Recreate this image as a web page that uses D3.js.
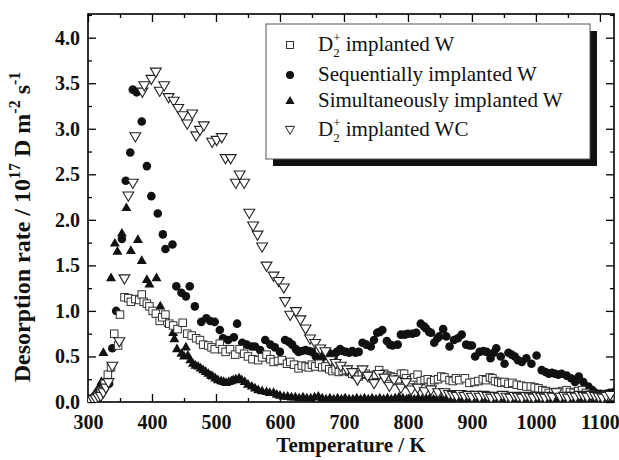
<!DOCTYPE html>
<html><head><meta charset="utf-8">
<script src="https://cdn.jsdelivr.net/npm/d3@7"></script>
<style>body{margin:0;background:#fff}svg{display:block}</style></head>
<body><svg id="c" width="619" height="460"></svg>
<script>
// D2+ implanted W (open squares)
const sqData = [[305,0.02],[310,0.04],[315,0.07],[320,0.12],[326,0.2],[331,0.3],[336,0.38],[341,0.75],[347,0.62],[350,0.96],[357,1.15],[363,1.14],[367,1.10],[374,1.13],[380,1.12],[384,1.18],[387,1.10],[392,1.08],[396,1.05],[401,1.0],[406,0.97],[412,0.89],[416,0.93],[421,0.96],[427,0.86],[433,0.84],[440,0.80],[448,0.87],[455,0.75],[462,0.73],[469,0.70],[475,0.68],[480,0.63],[488,0.62],[493,0.6],[498,0.58],[506,0.64],[510,0.58],[515,0.55],[522,0.58],[530,0.52],[537,0.58],[544,0.53],[550,0.5],[557,0.47],[566,0.46],[572,0.49],[579,0.52],[585,0.47],[590,0.44],[597,0.45],[603,0.46],[611,0.42],[616,0.44],[622,0.41],[629,0.37],[634,0.4],[640,0.39],[645,0.38],[650,0.41],[655,0.39],[661,0.42],[666,0.38],[671,0.39],[677,0.36],[682,0.34],[687,0.36],[692,0.33],[698,0.34],[703,0.35],[708,0.33],[713,0.31],[718,0.3],[723,0.28],[728,0.3],[734,0.31],[740,0.29],[745,0.26],[750,0.3],[755,0.35],[760,0.3],[763,0.31],[768,0.29],[773,0.28],[779,0.27],[784,0.25],[789,0.31],[794,0.31],[797,0.26],[805,0.24],[810,0.27],[815,0.3],[820,0.23],[826,0.24],[831,0.25],[836,0.22],[841,0.24],[847,0.25],[852,0.28],[857,0.27],[865,0.24],[870,0.23],[875,0.26],[880,0.24],[889,0.26],[896,0.21],[904,0.22],[910,0.23],[917,0.25],[922,0.24],[928,0.27],[932,0.26],[936,0.23],[941,0.22],[946,0.21],[951,0.22],[957,0.2],[963,0.21],[970,0.19],[977,0.18],[985,0.17],[992,0.17],[998,0.16],[1004,0.15],[1010,0.13],[1015,0.12],[1020,0.10],[1027,0.11],[1035,0.10],[1041,0.12],[1048,0.13],[1053,0.11],[1059,0.10],[1066,0.12],[1072,0.13],[1078,0.1],[1085,0.08],[1092,0.07],[1100,0.06],[1108,0.07],[1116,0.06]];
// Sequentially implanted W (filled circles)
const ciData = [[304,0.02],[308,0.04],[312,0.07],[316,0.1],[320,0.14],[324,0.18],[328,0.22],[333,0.2],[338,0.59],[344,1.0],[353,1.79],[359,2.43],[366,2.74],[370,3.43],[376,3.40],[384,3.08],[392,2.59],[399,2.26],[409,2.07],[417,1.84],[421,1.68],[432,1.73],[438,1.27],[446,1.20],[453,1.16],[459,1.27],[467,1.05],[477,0.88],[485,0.92],[491,0.89],[498,0.88],[506,0.79],[511,0.70],[519,0.68],[528,0.71],[533,0.86],[541,0.65],[548,0.63],[556,0.61],[561,0.61],[569,0.57],[577,0.68],[585,0.63],[592,0.60],[600,0.55],[608,0.68],[614,0.66],[619,0.63],[625,0.58],[629,0.55],[634,0.56],[640,0.57],[645,0.56],[650,0.55],[656,0.5],[663,0.45],[668,0.5],[674,0.55],[679,0.53],[684,0.50],[689,0.55],[694,0.58],[698,0.56],[703,0.55],[708,0.54],[713,0.56],[718,0.54],[723,0.55],[729,0.65],[735,0.63],[742,0.61],[747,0.68],[752,0.76],[756,0.77],[760,0.79],[767,0.67],[772,0.63],[776,0.62],[784,0.63],[789,0.74],[795,0.74],[800,0.75],[807,0.75],[813,0.76],[820,0.86],[825,0.83],[828,0.81],[833,0.77],[836,0.76],[841,0.65],[846,0.7],[849,0.72],[855,0.80],[860,0.72],[865,0.61],[872,0.68],[878,0.70],[884,0.74],[891,0.63],[896,0.62],[900,0.62],[905,0.50],[912,0.55],[918,0.56],[923,0.55],[929,0.48],[934,0.54],[938,0.59],[945,0.5],[951,0.42],[957,0.54],[962,0.52],[967,0.50],[972,0.46],[978,0.44],[985,0.48],[993,0.42],[1001,0.51],[1009,0.35],[1015,0.33],[1020,0.31],[1025,0.32],[1030,0.31],[1035,0.30],[1040,0.31],[1048,0.29],[1055,0.26],[1061,0.22],[1067,0.28],[1074,0.22],[1082,0.17],[1088,0.13],[1093,0.10],[1101,0.09],[1109,0.09],[1115,0.1],[1122,0.11]];
// Simultaneously implanted W (filled triangles)
const trData = [[303,0.02],[306,0.04],[309,0.07],[312,0.1],[315,0.13],[318,0.17],[321,0.22],[324,0.54],[336,1.36],[342,1.74],[346,1.65],[353,1.85],[360,2.13],[367,1.66],[378,1.78],[384,1.55],[392,1.34],[396,1.29],[407,1.36],[413,1.05],[420,0.95],[426,0.86],[433,0.76],[435,0.69],[439,0.58],[446,0.53],[450,0.5],[453,0.60],[456,0.51],[460,0.46],[464,0.42],[468,0.4],[472,0.39],[476,0.37],[480,0.35],[484,0.33],[488,0.31],[492,0.29],[495,0.28],[499,0.26],[503,0.24],[508,0.23],[512,0.22],[516,0.21],[520,0.22],[524,0.23],[527,0.24],[531,0.25],[536,0.26],[540,0.24],[545,0.22],[550,0.19],[556,0.17],[561,0.15],[566,0.13],[572,0.12],[579,0.11],[584,0.1],[590,0.10],[595,0.08],[600,0.07],[606,0.06],[612,0.06],[618,0.05],[624,0.05],[630,0.04],[636,0.05],[642,0.04],[648,0.04],[654,0.05],[660,0.06],[666,0.04],[672,0.03],[678,0.04],[684,0.03],[690,0.04],[696,0.03],[702,0.04],[708,0.03],[714,0.03],[720,0.04],[726,0.03],[732,0.04],[738,0.03],[744,0.04],[750,0.03],[756,0.04],[762,0.03],[768,0.04],[774,0.03],[780,0.04],[786,0.05],[792,0.04],[798,0.03],[804,0.04],[810,0.03],[816,0.04],[822,0.03],[828,0.04],[834,0.04],[840,0.03],[846,0.04],[852,0.03],[858,0.04],[864,0.03],[870,0.04],[876,0.03],[882,0.04],[888,0.03],[894,0.03],[900,0.04],[906,0.03],[912,0.04],[918,0.03],[924,0.03],[930,0.04],[936,0.03],[942,0.04],[948,0.03],[954,0.03],[960,0.04],[966,0.03],[972,0.03],[978,0.02],[984,0.03],[990,0.02],[996,0.03],[1002,0.02],[1008,0.03],[1014,0.02],[1020,0.03],[1026,0.02],[1032,0.02],[1038,0.03],[1044,0.02],[1050,0.02],[1056,0.02],[1062,0.03],[1068,0.02],[1074,0.02],[1080,0.02],[1086,0.02],[1092,0.02],[1098,0.02],[1104,0.02],[1110,0.02],[1116,0.02]];
// D2+ implanted WC (open down triangles)
const wcData = [[308,0.02],[312,0.03],[316,0.05],[320,0.06],[324,0.1],[328,0.15],[332,0.21],[338,0.39],[349,0.66],[357,1.35],[363,2.26],[370,2.40],[374,2.91],[385,3.40],[388,3.47],[399,3.54],[406,3.62],[412,3.41],[419,3.47],[426,3.34],[434,3.30],[441,3.22],[448,3.14],[455,3.05],[463,3.16],[469,2.92],[475,2.98],[481,3.03],[494,2.85],[501,2.87],[509,2.90],[515,2.67],[523,2.67],[531,2.40],[537,2.49],[544,2.40],[552,2.07],[558,1.93],[565,1.83],[572,1.70],[579,1.49],[590,1.38],[598,1.32],[606,1.25],[608,1.10],[616,0.95],[625,0.99],[632,0.90],[640,0.80],[647,0.69],[655,0.64],[663,0.58],[671,0.55],[679,0.45],[687,0.42],[695,0.39],[705,0.35],[713,0.32],[721,0.24],[729,0.35],[737,0.28],[747,0.20],[755,0.30],[763,0.26],[771,0.17],[778,0.24],[789,0.15],[797,0.21],[805,0.13],[815,0.15],[826,0.11],[836,0.13],[847,0.10],[857,0.10],[864,0.08],[870,0.07],[876,0.06],[882,0.08],[888,0.06],[894,0.07],[900,0.05],[906,0.07],[912,0.05],[918,0.07],[924,0.06],[930,0.04],[936,0.06],[942,0.05],[948,0.07],[954,0.05],[960,0.04],[966,0.06],[972,0.05],[978,0.04],[984,0.06],[990,0.05],[996,0.04],[1002,0.06],[1008,0.05],[1014,0.04],[1020,0.06],[1026,0.05],[1032,0.1],[1038,0.05],[1044,0.06],[1050,0.04],[1056,0.06],[1062,0.05],[1068,0.07],[1074,0.06],[1080,0.05],[1086,0.07],[1092,0.06],[1098,0.05],[1104,0.04],[1110,0.06],[1116,0.07]];

const xTicks = [300,400,500,600,700,800,900,1000,1100];
const xMinor = [350,450,550,650,750,850,950,1050];
const yTicks = [0,0.5,1.0,1.5,2.0,2.5,3.0,3.5,4.0];
const yMinor = [0.25,0.75,1.25,1.75,2.25,2.75,3.25,3.75,4.25];
const legendNames = ["implanted W","Sequentially implanted W","Simultaneously implanted W","implanted WC"];

const FONT = "'Liberation Serif','Times New Roman',Times,serif";
const svg = d3.select('#c');
const x = d3.scaleLinear().domain([300,1122]).range([88,614]);
const y = d3.scaleLinear().domain([0,4.26]).range([402,14]);

svg.append('rect').attr('width',619).attr('height',460).attr('fill','#fff');
svg.append('clipPath').attr('id','pc').append('rect')
  .attr('x',88).attr('y',14).attr('width',526).attr('height',388);

function styleAxis(g){
  g.select('.domain').remove();
  g.selectAll('line').attr('stroke','#000').attr('stroke-width',1.3);
  g.selectAll('text').attr('font-family',FONT).attr('font-weight','bold').attr('font-size',20).attr('fill','#111');
}
// bottom
svg.append('g').attr('transform',`translate(0,${y(0)})`)
  .call(d3.axisBottom(x).tickValues(xTicks).tickSize(-8).tickPadding(13).tickFormat(d3.format('d'))).call(styleAxis);
svg.append('g').attr('transform',`translate(0,${y(0)})`)
  .call(d3.axisBottom(x).tickValues(xMinor).tickSize(-4).tickFormat('')).call(styleAxis);
// top
svg.append('g').attr('transform',`translate(0,${y.range()[1]})`)
  .call(d3.axisTop(x).tickValues(xTicks).tickSize(-8).tickFormat('')).call(styleAxis);
svg.append('g').attr('transform',`translate(0,${y.range()[1]})`)
  .call(d3.axisTop(x).tickValues(xMinor).tickSize(-4).tickFormat('')).call(styleAxis);
// left
svg.append('g').attr('transform',`translate(${x(300)},0)`)
  .call(d3.axisLeft(y).tickValues(yTicks).tickSize(-8).tickPadding(8).tickFormat(d3.format('.1f'))).call(styleAxis);
svg.append('g').attr('transform',`translate(${x(300)},0)`)
  .call(d3.axisLeft(y).tickValues(yMinor).tickSize(-4).tickFormat('')).call(styleAxis);
// right
svg.append('g').attr('transform',`translate(${x.range()[1]},0)`)
  .call(d3.axisRight(y).tickValues(yTicks).tickSize(-8).tickFormat('')).call(styleAxis);
svg.append('g').attr('transform',`translate(${x.range()[1]},0)`)
  .call(d3.axisRight(y).tickValues(yMinor).tickSize(-4).tickFormat('')).call(styleAxis);

// frame
svg.append('rect').attr('x',x(300)).attr('y',y.range()[1])
  .attr('width',x.range()[1]-x(300)).attr('height',y(0)-y.range()[1])
  .attr('fill','none').attr('stroke','#000').attr('stroke-width',1.6);

// markers
const triUp = 'M0,-5.6L5,3.1L-5,3.1Z';
const triDown = 'M0,5L5.4,-4.2L-5.4,-4.2Z';
function drawSquares(g, data, s){
  g.selectAll(null).data(data).enter().append('rect')
    .attr('x',d=>x(d[0])-s/2).attr('y',d=>y(d[1])-s/2).attr('width',s).attr('height',s)
    .attr('fill','#fff').attr('stroke','#333').attr('stroke-width',1);
}
function drawCircles(g, data, r){
  g.selectAll(null).data(data).enter().append('circle')
    .attr('cx',d=>x(d[0])).attr('cy',d=>y(d[1])).attr('r',r).attr('fill','#111');
}
function drawPath(g, data, p, fill, stroke){
  g.selectAll(null).data(data).enter().append('path')
    .attr('d',p).attr('transform',d=>`translate(${x(d[0])},${y(d[1])})`)
    .attr('fill',fill).attr('stroke',stroke).attr('stroke-width',stroke==='none'?0:1.1);
}
const plot = svg.append('g').attr('clip-path','url(#pc)');
drawPath(plot.append('g'), trData, triUp, '#111', 'none');
drawCircles(plot.append('g'), ciData, 4.3);
drawSquares(plot.append('g'), sqData, 7.5);
drawPath(plot.append('g'), wcData, triDown, '#fff', '#222');

// legend
const lg = svg.append('g');
lg.append('rect').attr('x',273).attr('y',31).attr('width',324).attr('height',135).attr('fill','#111');
lg.append('rect').attr('x',266).attr('y',24).attr('width',324).attr('height',135).attr('fill','#fff').attr('stroke','#555').attr('stroke-width',1);
const rowsY = [51,81,107,136];
const symX = 290, txtX = 318;
lg.append('rect').attr('x',symX-3.5).attr('y',rowsY[0]-3.5-6).attr('width',7).attr('height',7).attr('fill','#fff').attr('stroke','#333');
lg.append('circle').attr('cx',symX).attr('cy',rowsY[1]-6).attr('r',4).attr('fill','#111');
lg.append('path').attr('d','M0,-5L4.6,3L-4.6,3Z').attr('transform',`translate(${symX},${rowsY[2]-6})`).attr('fill','#111');
lg.append('path').attr('d','M0,4.3L4.6,-3.6L-4.6,-3.6Z').attr('transform',`translate(${symX},${rowsY[3]-6})`).attr('fill','#fff').attr('stroke','#222').attr('stroke-width',1);

function d2plus(t, name){
  t.append('tspan').text('D');
  t.append('tspan').attr('font-size',13).attr('dy',6).text('2');
  t.append('tspan').attr('font-size',13).attr('dx',-6.5).attr('dy',-15).text('+');
  t.append('tspan').attr('dy',9).text('\u00a0' + name);
}
legendNames.forEach((n,i)=>{
  const t = lg.append('text').attr('x',txtX).attr('y',rowsY[i])
    .attr('font-family',FONT).attr('font-size',21).attr('fill','#111');
  if(i===0 || i===3) d2plus(t, n); else t.text(n);
});

// axis titles
svg.append('text').attr('x',(x(300)+x.range()[1])/2).attr('y',452).attr('text-anchor','middle')
  .attr('font-family',FONT).attr('font-weight','bold').attr('font-size',21).attr('fill','#111')
  .text('Temperature / K');
const yt = svg.append('text').attr('transform','translate(30,227) rotate(-90)').attr('text-anchor','middle')
  .attr('font-family',FONT).attr('font-weight','bold').attr('font-size',24).attr('fill','#111');
yt.append('tspan').text('Desorption rate / 10');
yt.append('tspan').attr('font-size',16).attr('dy',-10).text('17');
yt.append('tspan').attr('dy',10).text(' D m');
yt.append('tspan').attr('font-size',16).attr('dy',-10).text('-2');
yt.append('tspan').attr('dy',10).text(' s');
yt.append('tspan').attr('font-size',16).attr('dy',-10).text('-1');
</script></body></html>
